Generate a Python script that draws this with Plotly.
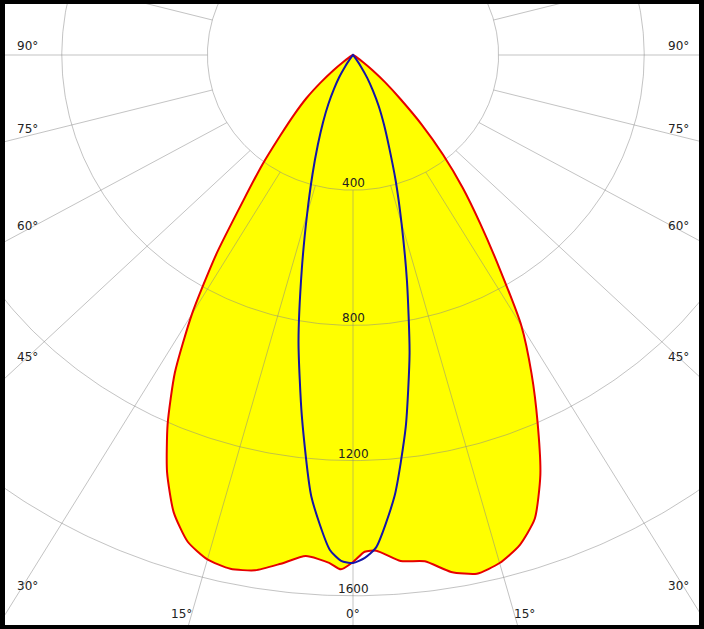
import numpy as np
import plotly.graph_objects as go

# ---------------- data ----------------
ANGLES = [0, 1.25, 2.5, 5, 7.5, 10, 12.5, 15, 17.5, 20, 22.5, 25, 27.5, 30, 32.5,
          35, 37.5, 40, 42.5, 45, 47.5, 50, 52.5, 55, 60, 65, 70, 80, 90]
# red curve (C0 right half / C180 left half)
C0 = [1500, 1470, 1468, 1503, 1511, 1553, 1572, 1556, 1521, 1460, 1345, 1200, 1062, 925, 750,
      610, 495, 385, 280, 185, 120, 70, 35, 15, 4, 0, 0, 0, 0]
C180 = [1500, 1522, 1504, 1488, 1518, 1548, 1557, 1545, 1510, 1440, 1335, 1205, 1060, 885, 700,
        525, 410, 310, 240, 182, 120, 70, 35, 15, 4, 0, 0, 0, 0]
# blue curve (C90 right half / C270 left half)
C90 = [1503, 1488, 1458, 1310, 1110, 895, 685, 515, 390, 290, 222, 168, 118, 78, 40,
       15, 5, 0, 0, 0, 0, 0, 0, 0, 0, 0, 0, 0, 0]
C270 = [1503, 1497, 1465, 1312, 1077, 862, 650, 487, 370, 282, 215, 160, 113, 76, 40,
        15, 5, 0, 0, 0, 0, 0, 0, 0, 0, 0, 0, 0, 0]

RING_VALUES = [400, 800, 1200, 1600, 2000]
RING_LABELS = ["400", "800", "1200", "1600", ""]
SPOKE_ANGLES = list(range(0, 360, 15))
SIDE_LABELS = ["90°", "75°", "60°", "45°", "30°"]
BOTTOM_LABELS = ["15°", "0°", "15°"]

# ---------------- layout constants ----------------
W, H = 704, 629
CX, CY = 353, 55          # pixel position of the luminaire centre
SX, SY = 0.364, 0.338     # pixels per cd (horizontal / vertical)
ML, MR, MT, MB = 5, 5, 4, 4
SIDE_Y_PX = [46, 129, 226, 357, 586]
SIDE_LEFT_X_PX, SIDE_RIGHT_X_PX = 15, 691
BOTTOM_X_PX = [181, 353, 524]
BOTTOM_Y_PX = 614
FONT = "DejaVu Sans, Verdana, sans-serif"
FONT_SIZE = 12


def px2data(px, py):
    return (px - CX) / SX, -(py - CY) / SY


def curve(right, left):
    a = np.radians(np.array(ANGLES, dtype=float))
    rr = np.array(right, dtype=float)
    rl = np.array(left, dtype=float)
    xl, yl = -rl * np.sin(a), -rl * np.cos(a)
    xr, yr = rr * np.sin(a), -rr * np.cos(a)
    x = np.concatenate([xl[::-1], xr[1:]])
    y = np.concatenate([yl[::-1], yr[1:]])
    return x, y


fig = go.Figure()

# yellow fill of the red curve
rx, ry = curve(C0, C180)
fig.add_trace(go.Scatter(x=rx, y=ry, mode="lines", fill="toself", fillcolor="#ffff00",
                         line=dict(width=0, color="#ffff00", shape="spline", smoothing=0.6),
                         hoverinfo="skip", showlegend=False))

# grid: rings
t = np.linspace(0, 2 * np.pi, 721)
gx, gy = [], []
for r in RING_VALUES:
    gx += list(r * np.sin(t)) + [None]
    gy += list(r * np.cos(t)) + [None]
# grid: spokes from the first ring outward
for ang in SPOKE_ANGLES:
    a = np.radians(ang)
    gx += [RING_VALUES[0] * np.sin(a), 4000 * np.sin(a), None]
    gy += [-RING_VALUES[0] * np.cos(a), -4000 * np.cos(a), None]
fig.add_trace(go.Scatter(x=gx, y=gy, mode="lines",
                         line=dict(width=1, color="rgba(135,135,135,0.5)"),
                         hoverinfo="skip", showlegend=False))

# red outline
fig.add_trace(go.Scatter(x=rx, y=ry, mode="lines",
                         line=dict(width=2, color="#e60000", shape="spline", smoothing=0.6),
                         hoverinfo="skip", showlegend=False))
# blue curve
bx, by = curve(C90, C270)
fig.add_trace(go.Scatter(x=bx, y=by, mode="lines",
                         line=dict(width=2, color="#1414a8", shape="spline", smoothing=0.6),
                         hoverinfo="skip", showlegend=False))

tfont = dict(family=FONT, size=FONT_SIZE, color="#222")
annotations = []
for r, lab in zip(RING_VALUES, RING_LABELS):
    if lab:
        annotations.append(dict(x=0, y=-r, text=lab, showarrow=False, xanchor="center",
                                yanchor="bottom", yshift=-2, font=tfont))
for lab, py in zip(SIDE_LABELS, SIDE_Y_PX):
    xl, yl = px2data(SIDE_LEFT_X_PX, py)
    xr, yr = px2data(SIDE_RIGHT_X_PX, py)
    annotations.append(dict(x=xl, y=yl, text=lab, showarrow=False, xanchor="left",
                            yanchor="middle", font=tfont))
    annotations.append(dict(x=xr, y=yr, text=lab, showarrow=False, xanchor="right",
                            yanchor="middle", font=tfont))
for lab, px in zip(BOTTOM_LABELS, BOTTOM_X_PX):
    xb, yb = px2data(px, BOTTOM_Y_PX)
    annotations.append(dict(x=xb, y=yb, text=lab, showarrow=False, xanchor="center",
                            yanchor="middle", font=tfont))

xr0, yt = px2data(ML, MT)
xr1, yb0 = px2data(W - MR, H - MB)
axis = dict(showgrid=False, zeroline=False, showticklabels=False, showline=False,
            ticks="", fixedrange=True)
fig.update_layout(
    width=W, height=H,
    margin=dict(l=ML, r=MR, t=MT, b=MB, pad=0),
    paper_bgcolor="#000000", plot_bgcolor="#ffffff",
    xaxis=dict(range=[xr0, xr1], **axis),
    yaxis=dict(range=[yb0, yt], **axis),
    annotations=annotations,
    showlegend=False,
)

fig.write_html("out.html", config={"displayModeBar": False},
               post_script="document.body.style.margin='0';document.body.style.padding='0';")
